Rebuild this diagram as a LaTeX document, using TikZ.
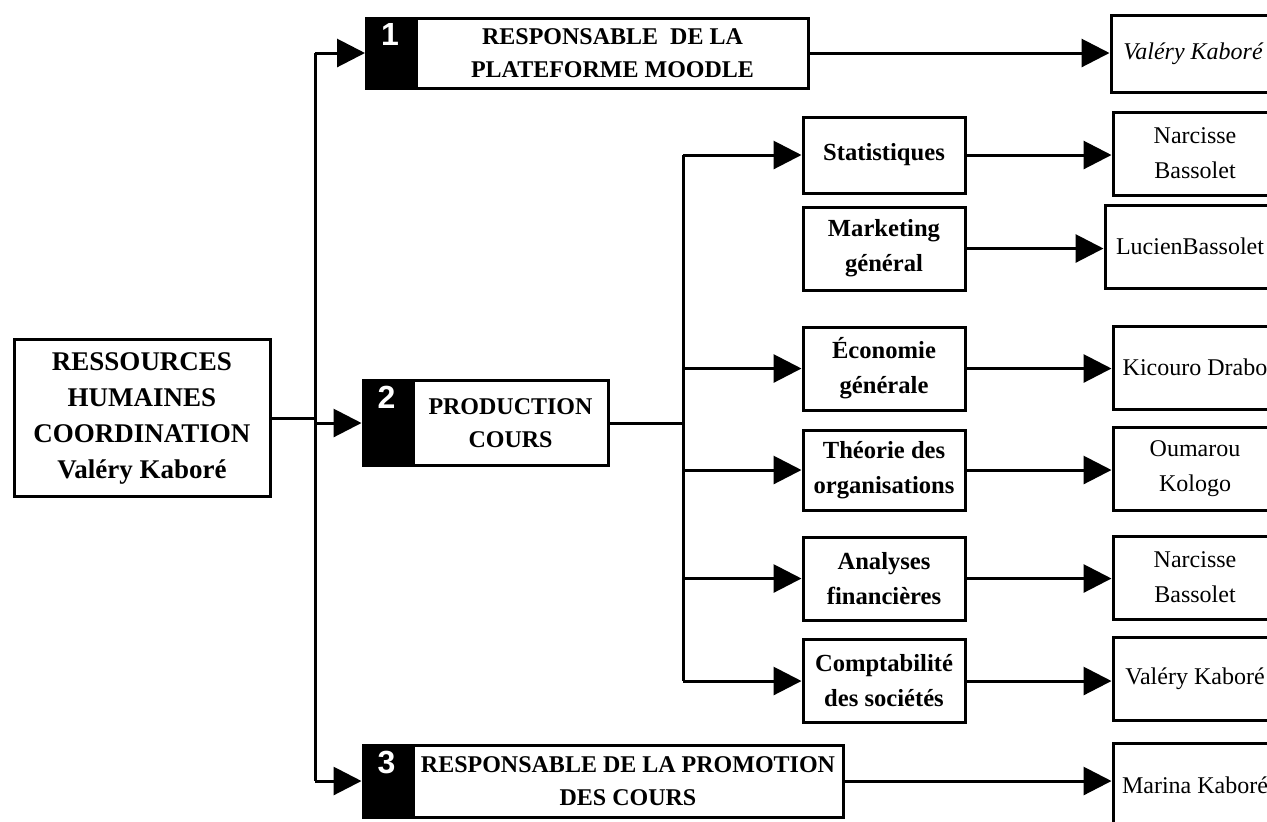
\documentclass[tikz,border=0pt]{standalone}
\usepackage{fontspec}
\setmainfont{Liberation Serif}
\setsansfont{Liberation Sans}
\usetikzlibrary{arrows.meta, positioning}
\tikzstyle{trait}=[line width=1.5pt]
\tikzstyle{fleche}=[trait, -{Triangle[length=14pt, width=14pt]}]
\tikzstyle{boite}=[draw, rectangle, line width=1.5pt, align=center, inner sep=2pt,
font=\fontsize{12}{16.5}\selectfont\bfseries]
\tikzstyle{numero}=[draw, rectangle, fill=black, line width=1.5pt, minimum width=23.5pt]
\tikzstyle{chiffre}=[anchor=north, text=white, inner sep=3.5pt,
font=\sffamily\bfseries\fontsize{16}{16}\selectfont]
\tikzstyle{matiere}=[boite, minimum width=81pt, minimum height=41.5pt,
font=\fontsize{12.3}{17.5}\selectfont\bfseries]
\tikzstyle{personne}=[draw, rectangle, line width=1.5pt, align=center, inner sep=2pt,
minimum width=82pt, minimum height=41.5pt, font=\fontsize{12}{17.5}\selectfont]

\begin{document}
\begin{tikzpicture}[x=0.5pt, y=-0.5pt]
	\useasboundingbox (0,0) rectangle (1267,821);
	\clip (0,0) rectangle (1267,821);
	% coordination
	\node[boite, minimum width=128pt, minimum height=78.5pt,
	font=\fontsize{13.5}{18}\selectfont\bfseries] (rh) at (142,418)
	{RESSOURCES\\HUMAINES\\COORDINATION\\Valéry Kaboré};
	% les trois responsables
	\node[numero, minimum height=35pt, label={[chiffre]north:1}] (num1) at (390,53) {};
	\node[boite, right=0pt of num1, minimum width=196pt, minimum height=35pt] (resp1)
	{RESPONSABLE\ \ DE LA\\PLATEFORME MOODLE};
	\node[numero, minimum height=42.5pt, label={[chiffre]north:2}] (num2) at (386.5,423) {};
	\node[boite, right=0pt of num2, minimum width=97.5pt, minimum height=42.5pt] (prod)
	{PRODUCTION\\COURS};
	\node[numero, minimum height=36pt, label={[chiffre]north:3}] (num3) at (386.5,781) {};
	\node[boite, right=0pt of num3, minimum width=215pt, minimum height=36pt] (promo)
	{RESPONSABLE DE LA PROMOTION\\DES COURS};
	% cours
	\node[matiere, minimum height=38pt] (stat) at (884,155) {Statistiques};
	\node[matiere] (mark) at (884,248.5) {Marketing\\général};
	\node[matiere] (eco) at (884,368.5) {Économie\\générale};
	\node[matiere, minimum height=40pt] (theo) at (884,470) {Théorie des\\organisations};
	\node[matiere] (anal) at (884,578.5) {Analyses\\financières};
	\node[matiere] (compta) at (884,681) {Comptabilité\\des sociétés};
	% personnes
	\node[personne, minimum height=38.5pt, font=\fontsize{12}{17.5}\selectfont\itshape] (val1) at (1193,53.5) {Valéry Kaboré};
	\node[personne] (nar1) at (1195,153.5) {Narcisse\\Bassolet};
	\node[personne, minimum width=85pt] (luc) at (1190,246.5) {LucienBassolet};
	\node[personne] (kic) at (1195,367.5) {Kicouro Drabo};
	\node[personne] (oum) at (1195,469) {Oumarou\\Kologo};
	\node[personne] (nar2) at (1195,577.5) {Narcisse\\Bassolet};
	\node[personne] (val2) at (1195,679) {Valéry Kaboré};
	\node[personne] (mar) at (1195,785) {Marina Kaboré};
	% liaisons
	\coordinate (t1) at (315,53);
	\coordinate (t3) at (315,781);
	\draw[trait] (rh.east) -- (rh.east -| t1);
	\draw[trait] (t1) -- (t3);
	\draw[fleche] (t1) -- (num1);
	\draw[fleche] (num2.west -| t1) -- (num2);
	\draw[fleche] (t3) -- (num3);
	\draw[fleche] (resp1.east) -- (resp1.east -| val1.west);
	\draw[fleche] (promo.east) -- (promo.east -| mar.west);
	\coordinate (c1) at (683,155);
	\coordinate (c2) at (683,681);
	\draw[trait] (prod.east) -- (prod.east -| c1);
	\draw[trait] (c1) -- (c2);
	\foreach \m in {stat,eco,theo,anal,compta}
		\draw[fleche] (\m.west -| c1) -- (\m.west);
	\foreach \m/\p in {stat/nar1,mark/luc,eco/kic,theo/oum,anal/nar2,compta/val2}
		\draw[fleche] (\m.east) -- (\m.east -| \p.west);
\end{tikzpicture}
\end{document}
